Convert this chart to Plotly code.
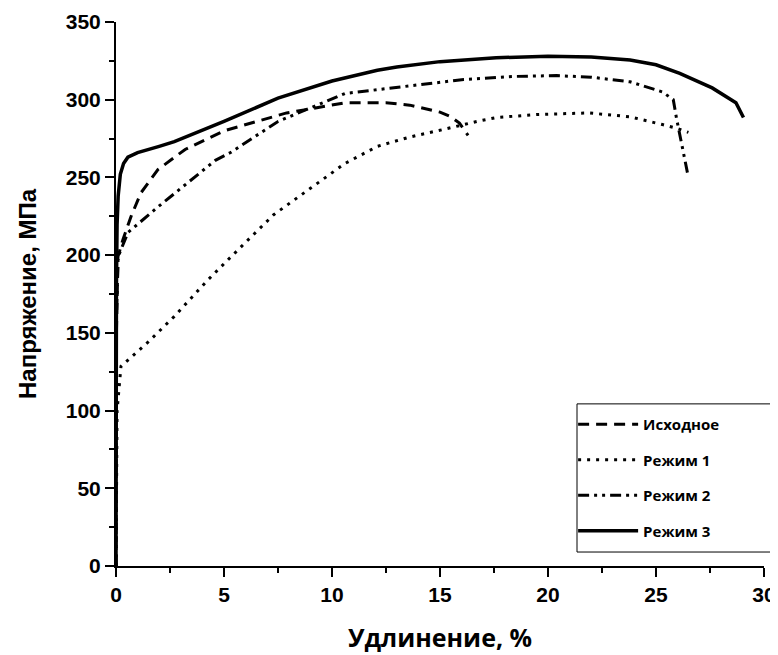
import plotly.graph_objects as go

# Исходное (dashed)
x_ish = [0, 0.02, 0.09, 0.17, 0.32, 0.7, 1.15, 1.94, 3.2, 5.0, 7.9, 10.6, 12.5, 13.6, 15.0, 15.5, 15.9, 16.1, 16.3]
y_ish = [0, 150, 199, 203, 210, 225, 240, 255, 268, 280, 291.5, 298, 298, 296.5, 292, 289, 285, 281, 277]

# Режим 1 (dotted)
x_r1 = [0, 0.05, 0.23, 1.48, 2.7, 4.25, 5.8, 7.3, 9.0, 10.6, 12.1, 13.6, 15.2, 16.7, 17.6, 19.5, 21.9, 23.8, 25.3, 26.0, 26.5]
y_r1 = [0, 100, 128.5, 144, 160.6, 184, 205.5, 226, 243, 259, 270, 276, 281, 286, 288.5, 290.5, 291.5, 289, 284, 281.5, 279]

# Режим 2 (dash-dot)
x_r2 = [0, 0.02, 0.1, 0.55, 1.94, 3.3, 4.6, 5.3, 7.5, 10.6, 13.0, 16.1, 18.5, 20.4, 22.0, 23.8, 25.3, 25.8, 25.95, 26.25, 26.5]
y_r2 = [0, 160, 199, 214.5, 231, 246.5, 261, 266, 286, 304, 308, 313, 315, 315.5, 314.5, 311.5, 305, 300, 288, 268, 250]

# Режим 3 (solid)
x_r3 = [0, 0.0, 0.02, 0.05, 0.1, 0.2, 0.35, 0.55, 1.0, 2.0, 2.7, 5.0, 7.5, 10.0, 12.1, 13.0, 15.0, 17.6, 20.0, 22.0, 23.8, 25.0, 26.1, 27.6, 28.7, 29.05]
y_r3 = [0, 100, 180, 220, 238, 252, 259, 263, 266, 270, 273, 286, 301, 312, 319, 321, 324.5, 327, 328, 327.5, 325.6, 322.5, 317, 307.6, 298, 288.6]

x_ticks = [0, 5, 10, 15, 20, 25, 30]
y_ticks = [0, 50, 100, 150, 200, 250, 300, 350]

fig = go.Figure()
fig.add_trace(go.Scatter(x=x_ish, y=y_ish, mode="lines", name="Исходное", legendgroup="a",
                         line=dict(color="black", width=3, dash="11px,7px")))
fig.add_trace(go.Scatter(x=x_r1, y=y_r1, mode="lines", name="Режим 1", legendgroup="b",
                         line=dict(color="black", width=3, dash="3px,6px")))
fig.add_trace(go.Scatter(x=x_r2, y=y_r2, mode="lines", name="Режим 2", legendgroup="c",
                         line=dict(color="black", width=3, dash="11px,5px,3px,5px,3px,5px")))
fig.add_trace(go.Scatter(x=x_r3, y=y_r3, mode="lines", name="Режим 3", legendgroup="d",
                         line=dict(color="black", width=3.5)))

W, H = 770, 647
L, R, T, B = 108, 14, 14, 89
PW = W - L - R

box_x0 = (577 - 8 - L) / PW
box_x1 = (773 - 8 - L) / PW

fig.update_layout(
    width=W, height=H,
    margin=dict(l=L, r=R, t=T, b=B, autoexpand=False),
    paper_bgcolor="white", plot_bgcolor="white",
    showlegend=True,
    legend=dict(x=box_x0 - 0.006, y=0.2905, xanchor="left", yanchor="top",
                borderwidth=0, bgcolor="rgba(0,0,0,0)",
                font=dict(family="Open Sans, Lato, sans-serif", size=15, color="black", weight="bold"),
                tracegroupgap=13, itemwidth=60),
    shapes=[dict(type="rect", xref="paper", yref="paper", x0=box_x0, x1=box_x1, y0=0.0257, y1=0.298,
                 line=dict(color="black", width=1), fillcolor="rgba(0,0,0,0)")],
    xaxis=dict(range=[0, 30], tickvals=x_ticks, showgrid=False, zeroline=False, automargin=False,
               showline=True, linecolor="black", linewidth=2, ticklabeloverflow="allow",
               ticks="outside", ticklen=9, tickwidth=2, tickcolor="black",
               minor=dict(dtick=2.5, ticks="outside", ticklen=5, tickwidth=2, tickcolor="black", showgrid=False),
               tickfont=dict(family="Liberation Sans, Arial", size=21, color="black", weight="bold"),
               title=dict(text="Удлинение, %", standoff=24,
                          font=dict(family="Open Sans, sans-serif", size=25, color="black", weight="bold"))),
    yaxis=dict(range=[0, 350], tickvals=y_ticks, showgrid=False, zeroline=False, automargin=False,
               showline=True, linecolor="black", linewidth=2,
               ticks="outside", ticklen=9, tickwidth=2, tickcolor="black",
               minor=dict(dtick=25, ticks="outside", ticklen=5, tickwidth=2, tickcolor="black", showgrid=False),
               tickfont=dict(family="Liberation Sans, Arial", size=21, color="black", weight="bold"),
               title=dict(text="Напряжение, МПа", standoff=22,
                          font=dict(family="Liberation Sans, Arial", size=24, color="black", weight="bold"))),
)

fig.write_html("out.html")
